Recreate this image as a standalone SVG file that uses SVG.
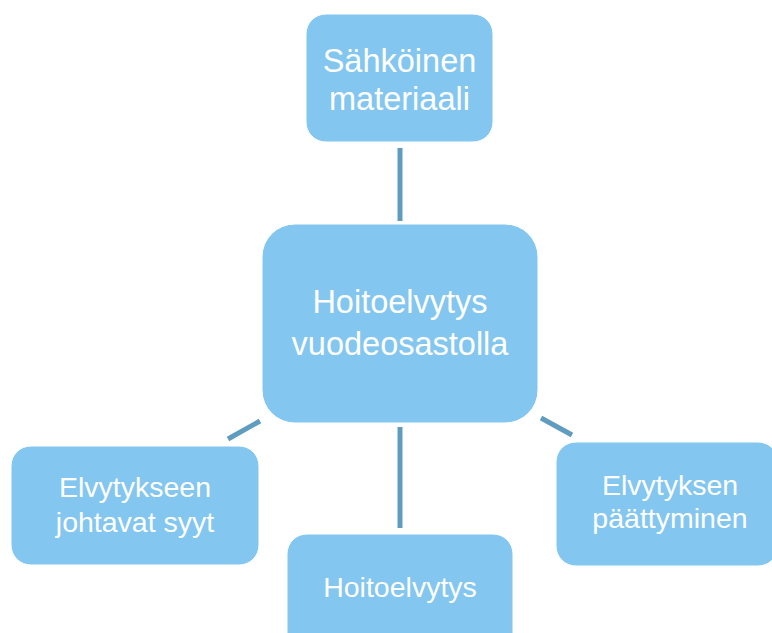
<svg xmlns="http://www.w3.org/2000/svg" width="772" height="633" viewBox="0 0 772 633">
<style>
.box{fill:#83C6EF;stroke:#ffffff;stroke-width:1}
.t{font-family:"Liberation Sans","Open Sans",sans-serif;fill:#ffffff;text-anchor:middle}
.big{font-size:32.5px}
.small{font-size:28.5px}
.c{stroke:#5F9CC0;stroke-width:5;fill:none}
</style>
<rect width="772" height="633" fill="#ffffff"/>
<g id="connectors">
<line class="c" x1="400" y1="148" x2="400" y2="221"/>
<line class="c" x1="400" y1="427" x2="400" y2="528"/>
<line class="c" x1="260" y1="421" x2="228" y2="439"/>
<line class="c" x1="541" y1="418" x2="572" y2="435"/>
</g>
<g id="n-top">
<rect class="box" x="306" y="14" width="187" height="128" rx="20"/>
<text class="t big" x="399.5" y="72">Sähköinen</text>
<text class="t big" x="399.5" y="110">materiaali</text>
</g>
<g id="n-center">
<rect class="box" x="262" y="224" width="276" height="199" rx="33"/>
<text class="t big" x="400" y="313">Hoitoelvytys</text>
<text class="t big" x="400" y="355">vuodeosastolla</text>
</g>
<g id="n-left">
<rect class="box" x="11" y="446" width="248" height="119" rx="20"/>
<text class="t small" x="135" y="497">Elvytykseen</text>
<text class="t small" x="135" y="532">johtavat syyt</text>
</g>
<g id="n-right">
<rect class="box" x="556" y="442" width="222" height="124" rx="20"/>
<text class="t small" x="670" y="495">Elvytyksen</text>
<text class="t small" x="670" y="528">päättyminen</text>
</g>
<g id="n-bottom">
<rect class="box" x="287" y="534" width="226" height="120" rx="20"/>
<text class="t small" x="400" y="597">Hoitoelvytys</text>
</g>
</svg>
